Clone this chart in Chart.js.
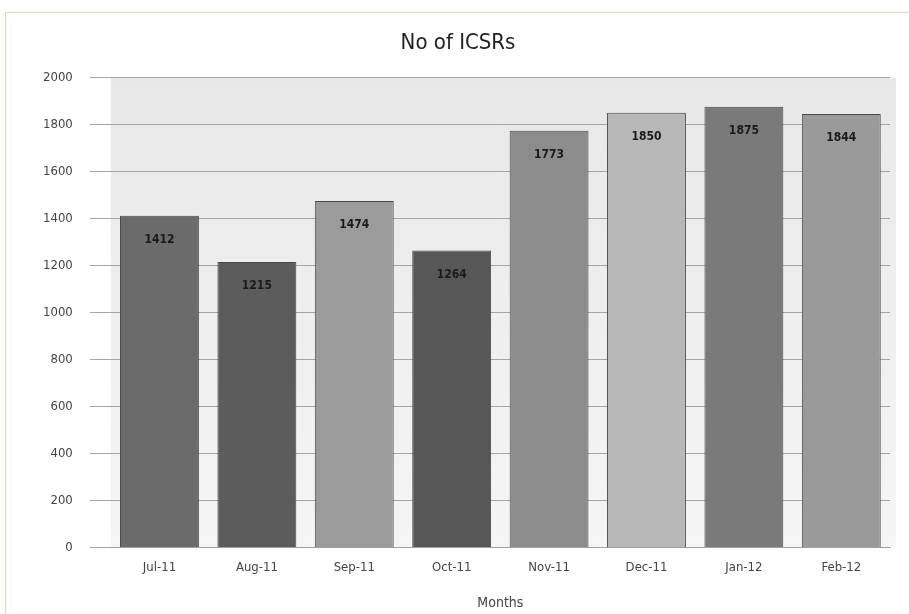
<!DOCTYPE html>
<html>
<head>
<meta charset="utf-8">
<script src="https://cdn.jsdelivr.net/npm/chart.js@4"></script>
<style>
  body { margin: 0; background: #fff; }
  #wrap { position: relative; width: 909px; height: 614px; }
  #frame { position: absolute; left: 5px; top: 12px; right: 0; bottom: 0; border-left: 1px solid #f6cfb2; border-top: 1px solid #f6cfb2; }
  canvas { position: absolute; left: 0; top: 0; }
</style>
</head>
<body>
<div id="wrap">
  <div id="frame"></div>
  <canvas id="chart" width="909" height="614"></canvas>
</div>
<script>
// values
const months = ['Jul-11', 'Aug-11', 'Sep-11', 'Oct-11', 'Nov-11', 'Dec-11', 'Jan-12', 'Feb-12'];
const icsrCounts = [1412, 1215, 1474, 1264, 1773, 1850, 1875, 1844];
const barColors = ['#6b6b6b', '#5c5c5c', '#9b9b9b', '#575757', '#8c8c8c', '#b8b8b8', '#7a7a7a', '#9a9a9a'];

// light grey plot background
const plotBackground = {
    id: 'plotBackground',
    beforeDraw(chart) {
        const { ctx, chartArea: a } = chart;
        const g = ctx.createLinearGradient(0, a.top, 0, a.bottom);
        g.addColorStop(0, '#e8e8e8');
        g.addColorStop(1, '#f5f5f5');
        ctx.save();
        ctx.fillStyle = g;
        ctx.fillRect(a.left, a.top, a.right - a.left + 6, a.bottom - a.top);
        ctx.restore();
    }
};

// value written inside the top of each bar
const barValues = {
    id: 'barValues',
    afterDatasetsDraw(chart) {
        const ctx = chart.ctx;
        const meta = chart.getDatasetMeta(0);
        ctx.save();
        ctx.font = 'bold 12px "DejaVu Sans Condensed", "DejaVu Sans"';
        ctx.fillStyle = '#1a1a1a';
        ctx.textAlign = 'center';
        ctx.textBaseline = 'middle';
        meta.data.forEach((bar, i) => {
            ctx.fillText(icsrCounts[i], bar.x, bar.y + 24);
        });
        ctx.restore();
    }
};

new Chart(document.getElementById('chart'), {
    type: 'bar',
    data: {
        labels: months,
        datasets: [{
            label: 'No of ICSRs',
            data: icsrCounts,
            backgroundColor: barColors,
            borderColor: '#4a4a4a',
            borderWidth: 1,
            categoryPercentage: 0.81,
            barPercentage: 1
        }]
    },
    options: {
        responsive: false,
        animation: false,
        layout: { padding: { left: 26, right: 19, top: 0, bottom: 0 } },
        plugins: {
            legend: { display: false },
            tooltip: { enabled: false },
            title: {
                display: true,
                text: 'No of ICSRs',
                color: '#222',
                font: { family: 'Liberation Sans Narrow, "DejaVu Sans Condensed"', size: 22, weight: 'normal' },
                padding: { top: 30, bottom: 21 }
            }
        },
        scales: {
            x: {
                grid: { display: false },
                border: { color: '#a0a0a0' },
                ticks: { color: '#444', font: { family: '"DejaVu Sans Condensed"', size: 13 }, padding: 4 },
                title: {
                    display: true,
                    text: 'Months',
                    color: '#444',
                    font: { family: '"DejaVu Sans Condensed"', size: 14 },
                    padding: { top: 16, bottom: 2 }
                }
            },
            y: {
                min: 0,
                max: 2000,
                ticks: {
                    stepSize: 200,
                    color: '#444',
                    font: { family: '"DejaVu Sans Condensed"', size: 13 },
                    padding: 17,
                    callback: v => String(v)
                },
                grid: { color: '#a5a5a5', tickLength: 21, tickColor: '#a5a5a5' },
                border: { display: false }
            }
        }
    },
    plugins: [plotBackground, barValues]
});
</script>
</body>
</html>
